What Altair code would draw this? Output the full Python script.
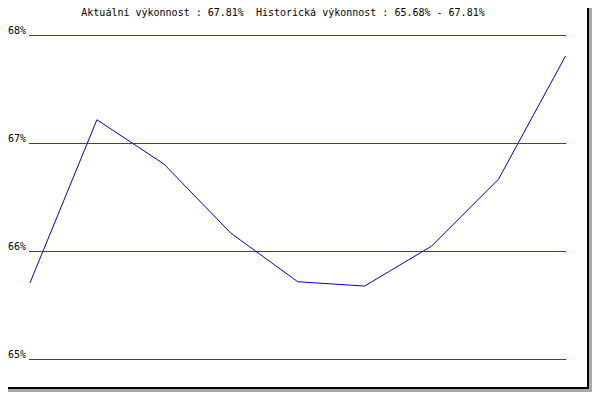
import altair as alt
import pandas as pd

# ---- data ----
points = [0, 1, 2, 3, 4, 5, 6, 7, 8]
values = [65.71, 67.22, 66.81, 66.17, 65.72, 65.68, 66.05, 66.67, 67.81]
tick_values = [65, 66, 67, 68]
tick_labels = ["65%", "66%", "67%", "68%"]
title_text = "Aktuální výkonnost : 67.81%\u00a0\u00a0Historická výkonnost : 65.68% - 67.81%"

FONT = "DejaVu Sans Mono"

line_df = pd.DataFrame({"i": points, "v": values})
tick_df = pd.DataFrame({"v": tick_values, "label": tick_labels})
one = pd.DataFrame({"t": [title_text]})

xs = alt.Scale(domain=[0, 8], range=[22, 557.5])
ys = alt.Scale(domain=[65, 68], range=[351.5, 27.5])

grid = alt.Chart(tick_df).mark_rule(color="#dd0000", strokeWidth=1).encode(
    y=alt.Y("v:Q", scale=ys, axis=None),
    x=alt.value(21),
    x2=alt.value(558),
)

labels = alt.Chart(tick_df).mark_text(
    font=FONT, fontSize=10, align="left", baseline="alphabetic", dy=-2, color="black"
).encode(
    y=alt.Y("v:Q", scale=ys, axis=None),
    x=alt.value(0),
    text="label:N",
)

line = alt.Chart(line_df).mark_line(color="#0000cc", strokeWidth=1).encode(
    x=alt.X("i:Q", scale=xs, axis=None),
    y=alt.Y("v:Q", scale=ys, axis=None),
)

title = alt.Chart(one).mark_text(
    font=FONT, fontSize=10, align="center", baseline="middle", color="black"
).encode(
    text="t:N",
    x=alt.value(275),
    y=alt.value(5),
)

def box(x, x2, y, y2, color):
    return alt.Chart(one).mark_rect(color=color).encode(
        x=alt.value(x), x2=alt.value(x2), y=alt.value(y), y2=alt.value(y2)
    )

shadow_r = box(581, 584, 0, 384, "#a8a8a8")
shadow_b = box(0, 584, 381, 384, "#a8a8a8")
border_r = box(579, 581, 0, 381, "black")
border_b = box(0, 581, 379, 381, "black")

chart = alt.layer(
    grid, line, labels, title, shadow_r, shadow_b, border_r, border_b
).properties(
    width=584,
    height=384,
    autosize=alt.AutoSizeParams(type="none"),
    padding=0,
    background="white",
).configure_view(stroke=None)

chart.save("out.html", embed_options={"renderer": "svg", "actions": False})
